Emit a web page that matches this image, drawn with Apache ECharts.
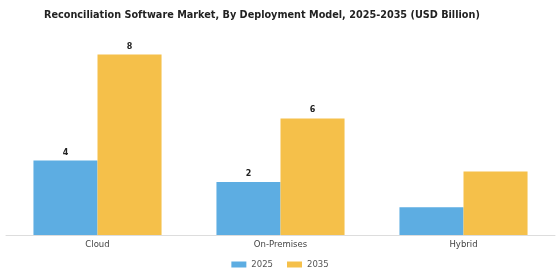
<!DOCTYPE html>
<html lang="en">
<head>
    <meta charset="UTF-8">
    <script src="https://cdn.jsdelivr.net/npm/echarts@6/dist/echarts.min.js"></script>
    <style>
        html, body { margin: 0; padding: 0; background: #fff; }
    </style>
</head>
<body>
<div id="chart" style="width: 560px; height: 280px;"></div>
<script type="text/javascript">
    // values (USD Billion)
    var categories = ['Cloud', 'On-Premises', 'Hybrid'];
    var seriesNames = ['2025', '2035'];
    var values2025 = [3.3, 2.35, 1.23];
    var values2035 = [8.0, 5.17, 2.82];
    // the label text printed above the bars (Hybrid has none)
    var labels2025 = ['4', '2', ''];
    var labels2035 = ['8', '6', ''];

    var chart = echarts.init(document.getElementById('chart'));

    function labelOpt(texts) {
        return {
            show: true,
            position: 'top',
            distance: 4,
            fontSize: 8,
            fontWeight: 'bold',
            color: '#222',
            fontFamily: 'DejaVu Sans',
            formatter: function (p) { return texts[p.dataIndex]; }
        };
    }

    var option = {
        animation: false,
        title: {
            text: 'Reconciliation Software Market, By Deployment Model, 2025-2035 (USD Billion)',
            left: 39,
            top: 5,
            textStyle: { fontSize: 9.7, fontWeight: 'bold', color: '#222', fontFamily: 'DejaVu Sans' }
        },
        legend: {
            data: seriesNames,
            bottom: 6,
            left: 'center',
            itemWidth: 15,
            itemHeight: 6,
            itemGap: 14,
            icon: 'rect',
            textStyle: { fontSize: 8.5, color: '#555', fontFamily: 'DejaVu Sans' }
        },
        grid: { left: 6, right: 5, top: 32, bottom: 45 },
        xAxis: {
            type: 'category',
            data: categories,
            axisLine: { lineStyle: { color: '#ddd' } },
            axisTick: { show: false },
            axisLabel: { fontSize: 8.5, color: '#444', margin: 5, fontFamily: 'DejaVu Sans' }
        },
        yAxis: {
            type: 'value',
            min: 0,
            max: 9,
            show: false,
            splitLine: { show: false }
        },
        series: [
            {
                name: seriesNames[0],
                type: 'bar',
                data: values2025,
                barGap: '0%',
                barCategoryGap: '30%',
                itemStyle: { color: '#5DADE2' },
                label: labelOpt(labels2025)
            },
            {
                name: seriesNames[1],
                type: 'bar',
                data: values2035,
                itemStyle: { color: '#F5C04A' },
                label: labelOpt(labels2035)
            }
        ]
    };

    chart.setOption(option);
</script>
</body>
</html>
